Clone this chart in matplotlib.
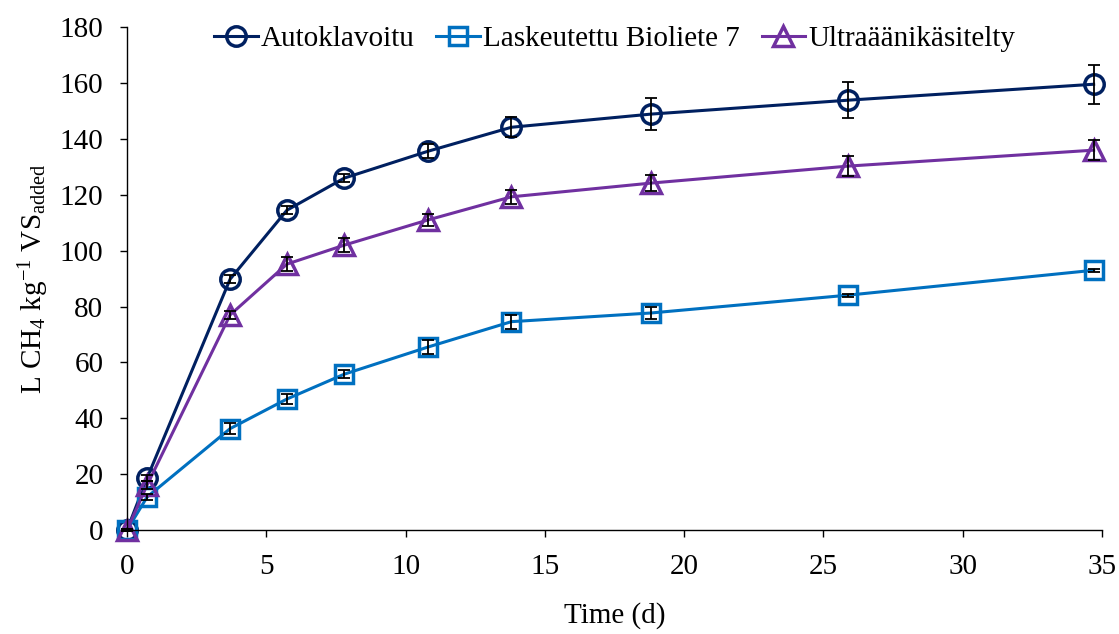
import numpy as np
import matplotlib
matplotlib.use('Agg')
from matplotlib import pyplot as plt

plt.rcParams['font.family'] = ['Liberation Serif', 'DejaVu Serif']
plt.rcParams['mathtext.fontset'] = 'custom'
plt.rcParams['mathtext.rm'] = 'Liberation Serif'
plt.rcParams['mathtext.it'] = 'Liberation Serif:italic'

time = [0, 0.72, 3.7, 5.74, 7.8, 10.8, 13.8, 18.8, 25.9, 34.7]

auto = [0, 18.6, 89.8, 114.5, 126, 135.6, 144.2, 148.9, 153.9, 159.6]
auto_err = [0.5, 1.0, 1.5, 1.5, 1.5, 2.5, 3.5, 5.8, 6.4, 7.0]

lask = [0, 11.8, 36.3, 46.9, 55.8, 65.5, 74.6, 77.7, 84.1, 93.0]
lask_err = [0.5, 1.2, 2.0, 1.8, 1.5, 2.5, 2.5, 2.0, 0.5, 0.5]

ultra = [0, 16.1, 77.0, 95.2, 102, 111, 119.3, 124.2, 130.3, 136.0]
ultra_err = [0.5, 1.5, 1.5, 2.5, 2.5, 2.0, 2.5, 3.0, 3.7, 3.6]

labels = ['Autoklavoitu', 'Laskeutettu Bioliete 7', 'Ultraäänikäsitelty']
colors = ['#002060', '#0070C0', '#7030A0']
markers = ['o', 's', '^']
msizes = [14, 13, 14]

fig = plt.figure(figsize=(11.19, 6.34), dpi=100)
ax = fig.add_axes([0.1135, 0.164, 0.8713, 0.793])

for y, err, lab, c, m, ms in zip([auto, lask, ultra], [auto_err, lask_err, ultra_err],
                                 labels, colors, markers, msizes):
    ax.plot(time, y, color=c, lw=2.2, marker=m, ms=ms, mfc='none', mec=c,
            mew=2.5, label=lab, zorder=2, clip_on=False)
    ax.errorbar(time, y, yerr=err, fmt='none', ecolor='black', elinewidth=1.3,
                capsize=4, capthick=1.3, zorder=3, clip_on=False)

ax.set_xlim(0, 35)
ax.set_ylim(0, 180)
ax.set_xticks(np.arange(0, 36, 5))
ax.set_yticks(np.arange(0, 181, 20))
ax.spines['top'].set_visible(False)
ax.spines['right'].set_visible(False)
ax.tick_params(labelsize=21, direction='out', length=5, width=1)
ax.tick_params(axis='y', pad=12)
ax.tick_params(axis='x', pad=12)
for s in ['left', 'bottom']:
    ax.spines[s].set_linewidth(1)

ax.set_xlabel('Time (d)', fontsize=21, labelpad=16)
ax.set_ylabel(r'L CH$_{4}$ kg$^{-1}$ VS$_{\mathrm{added}}$', fontsize=21, labelpad=6)

ax.legend(loc='upper center', bbox_to_anchor=(0.5, 1.055), ncol=3, frameon=False,
          fontsize=21, handlelength=1.5, handletextpad=0.1, columnspacing=0.75)

fig.savefig('out.png', dpi=100)
